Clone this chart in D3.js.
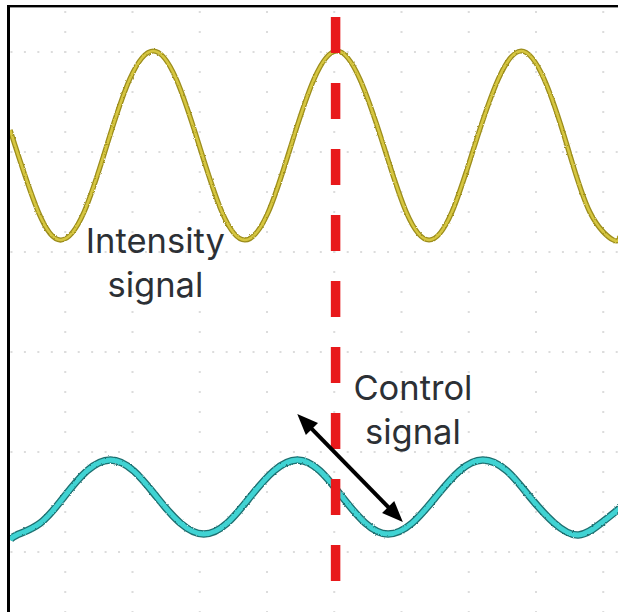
<!DOCTYPE html>
<html>
<head>
<meta charset="utf-8">
<script src="https://cdn.jsdelivr.net/npm/d3@7"></script>
<style>
  html, body { margin: 0; padding: 0; background: #fff; }
  svg { display: block; }
  .label { font-family: Inter, "Noto Sans", sans-serif; fill: #2c3035; }
</style>
</head>
<body>
<svg id="scope" width="618" height="612"></svg>
<script>
// Time axis in divisions, voltage axis in divisions (0 = middle graticule line)
const intensityTime = [0.18, 0.60, 0.94, 1.28, 1.62, 1.96, 2.31, 2.65, 2.99, 3.33, 3.67, 4.02, 4.36, 4.70, 5.04, 5.38, 5.73, 6.07, 6.41, 6.75, 7.09, 7.44, 7.78, 8.12, 8.46, 8.80, 9.15, 9.25];
const intensityVolt = [2.22, 1.40, 1.12, 1.40, 2.07, 2.73, 3.01, 2.73, 2.07, 1.40, 1.12, 1.40, 2.07, 2.73, 3.01, 2.73, 2.07, 1.40, 1.12, 1.40, 2.07, 2.73, 3.01, 2.73, 2.07, 1.40, 1.12, 1.16];

const controlTime = [0.18, 0.28, 0.63, 0.98, 1.32, 1.67, 2.02, 2.36, 2.71, 3.06, 3.41, 3.75, 4.10, 4.45, 4.79, 5.12, 5.46, 5.80, 6.16, 6.51, 6.86, 7.21, 7.57, 7.91, 8.27, 8.63, 8.97, 9.25];
const controlVolt = [-1.88, -1.83, -1.71, -1.45, -1.19, -1.08, -1.19, -1.45, -1.71, -1.82, -1.71, -1.45, -1.19, -1.08, -1.19, -1.45, -1.71, -1.82, -1.71, -1.45, -1.19, -1.08, -1.19, -1.45, -1.71, -1.83, -1.71, -1.56];

// Graticule lines (divisions) and the trigger marker
const gridTimes = [1, 2, 3, 4, 5, 6, 7, 8, 9];
const gridVolts = [-2, -1, 0, 1, 2, 3];
const markerTime = 5.02;
const markerSpan = [3.35, -2.38];
const arrowFrom = [4.45, -0.62];
const arrowTo = [6.02, -1.70];
const intensityLabel = ["Intensity", "signal"];
const controlLabel = ["Control", "signal"];
const intensityLabelPos = [2.34, 0.99];
const controlLabelPos = [6.17, -0.48];

const W = 618, H = 612;
const svg = d3.select("#scope");

const x = d3.scaleLinear().domain([0, 10]).range([-2, 670.5]);
const y = d3.scaleLinear().domain([-3, 3]).range([652, 52]);

const plotLeft = 10, plotTop = 7;

const defs = svg.append("defs");
defs.append("clipPath").attr("id", "plot")
  .append("rect").attr("x", plotLeft).attr("y", plotTop).attr("width", W - plotLeft).attr("height", H - plotTop);

// slight roughness of the sampled traces
const rough = defs.append("filter").attr("id", "rough").attr("x", "-5%").attr("y", "-20%").attr("width", "110%").attr("height", "140%");
rough.append("feTurbulence").attr("type", "fractalNoise").attr("baseFrequency", 0.9).attr("numOctaves", 1).attr("seed", 3).attr("result", "n");
rough.append("feDisplacementMap").attr("in", "SourceGraphic").attr("in2", "n").attr("scale", 2.4).attr("xChannelSelector", "R").attr("yChannelSelector", "G");

svg.append("rect").attr("width", W).attr("height", H).attr("fill", "#fff");

const g = svg.append("g").attr("clip-path", "url(#plot)");

// dotted graticule
const dotColor = "#dcdcdc";
const vStep = 0.2, hStep = 0.2;
const vDots = [];
gridTimes.forEach(t => {
  for (let v = 3.4; v >= -2.7; v -= vStep) vDots.push([t, v]);
});
const hDots = [];
gridVolts.forEach(v => {
  for (let t = 0.2; t <= 9.4; t += hStep) hDots.push([t, v]);
});
g.append("g").selectAll("rect.vd").data(vDots).join("rect")
  .attr("x", d => x(d[0]) - 1).attr("y", d => y(d[1]) - 1)
  .attr("width", 2).attr("height", 2).attr("fill", dotColor);
g.append("g").selectAll("rect.hd").data(hDots).join("rect")
  .attr("x", d => x(d[0]) - 1).attr("y", d => y(d[1]) - 1)
  .attr("width", 2).attr("height", 2).attr("fill", dotColor);

const line = d3.line().x(d => x(d[0])).y(d => y(d[1])).curve(d3.curveNatural);
const intensity = d3.zip(intensityTime, intensityVolt);
const control = d3.zip(controlTime, controlVolt);

// intensity trace
const gi = g.append("g").attr("filter", "url(#rough)");
gi.append("path").attr("d", line(intensity)).attr("fill", "none")
  .attr("stroke", "#9c8d1c").attr("stroke-width", 5.2).attr("stroke-linejoin", "round");
gi.append("path").attr("d", line(intensity)).attr("fill", "none")
  .attr("stroke", "#d6c640").attr("stroke-width", 2.6).attr("stroke-linejoin", "round");

// control trace
const gc = g.append("g").attr("filter", "url(#rough)");
gc.append("path").attr("d", line(control)).attr("fill", "none")
  .attr("stroke", "#1f6f70").attr("stroke-width", 7.5).attr("stroke-linejoin", "round");
gc.append("path").attr("d", line(control)).attr("fill", "none")
  .attr("stroke", "#3fd3d3").attr("stroke-width", 4.8).attr("stroke-linejoin", "round");

// trigger marker
g.append("line")
  .attr("x1", x(markerTime)).attr("x2", x(markerTime))
  .attr("y1", y(markerSpan[0])).attr("y2", y(markerSpan[1]))
  .attr("stroke", "#e8191b").attr("stroke-width", 9.5)
  .attr("stroke-dasharray", "36,30");

// double-headed arrow
const ax1 = x(arrowFrom[0]), ay1 = y(arrowFrom[1]);
const ax2 = x(arrowTo[0]), ay2 = y(arrowTo[1]);
const ang = Math.atan2(ay2 - ay1, ax2 - ax1);
const headLen = 21, headHalf = 8.5;
function head(px, py, a) {
  const bx = px - headLen * Math.cos(a), by = py - headLen * Math.sin(a);
  const nx = -Math.sin(a) * headHalf, ny = Math.cos(a) * headHalf;
  return [[px, py], [bx + nx, by + ny], [bx - nx, by - ny]];
}
g.append("line")
  .attr("x1", ax1 + 12 * Math.cos(ang)).attr("y1", ay1 + 12 * Math.sin(ang))
  .attr("x2", ax2 - 12 * Math.cos(ang)).attr("y2", ay2 - 12 * Math.sin(ang))
  .attr("stroke", "#000").attr("stroke-width", 4);
g.append("polygon").attr("points", head(ax2, ay2, ang).join(" ")).attr("fill", "#000");
g.append("polygon").attr("points", head(ax1, ay1, ang + Math.PI).join(" ")).attr("fill", "#000");

// labels, one text element per line
function label(lines, pos) {
  const t = svg.append("g");
  lines.forEach((s, i) => {
    t.append("text").attr("class", "label")
      .attr("text-anchor", "middle").attr("font-size", 34.5)
      .attr("x", x(pos[0])).attr("y", y(pos[1]) + i * 44).text(s);
  });
}
label(intensityLabel, intensityLabelPos);
label(controlLabel, controlLabelPos);

// frame
svg.append("rect").attr("x", 7).attr("y", 5).attr("width", 3).attr("height", H - 5).attr("fill", "#000");
svg.append("rect").attr("x", 7).attr("y", 5).attr("width", W - 7).attr("height", 2.4).attr("fill", "#000");
</script>
</body>
</html>
